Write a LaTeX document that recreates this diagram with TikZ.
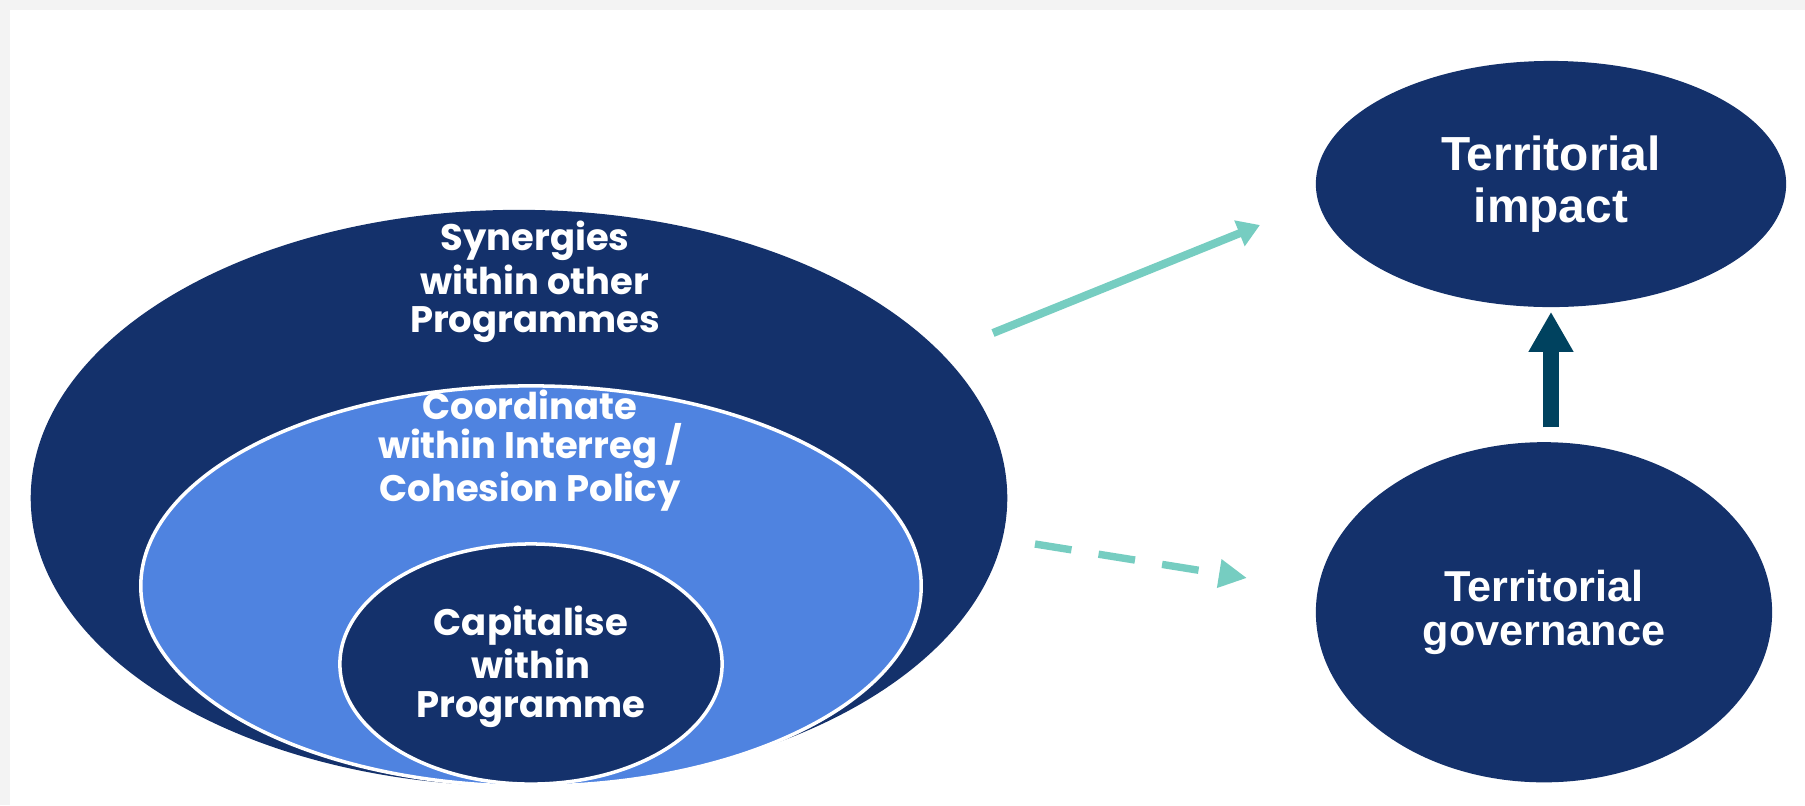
\documentclass[tikz,border=0pt]{standalone}
\usepackage{fontspec}
\setmainfont{Liberation Sans}
\newfontfamily\progfont{Poppins}
\usetikzlibrary{shapes.geometric, arrows.meta, positioning}

\definecolor{navy}{HTML}{14316B}
\definecolor{skyblue}{HTML}{4F83E0}
\definecolor{arrowteal}{HTML}{76CDC1}
\definecolor{deepteal}{HTML}{00425F}
\definecolor{framegray}{HTML}{F3F3F3}

\tikzset{
  ring/.style = {ellipse, inner sep=0pt},
  prog/.style = {text=white, align=center, font=\progfont\bfseries\fontsize{10.5}{11}\selectfont},
  result/.style = {ellipse, fill=navy, text=white, align=center, inner sep=0pt},
}

\begin{document}
\begin{tikzpicture} [x=0.01cm, y=-0.01cm]

\fill [framegray] (0,0) rectangle (1805,805);
\fill [white] (10,10) rectangle (1805,805);

\node (outer) [ring, fill=navy, minimum width=9.76cm, minimum height=5.76cm] at (519,498) {};
\node (middle) [ring, fill=skyblue, draw=white, line width=1pt, minimum width=7.8cm, minimum height=4cm] at (531,586) {};
\node (inner) [ring, fill=navy, draw=white, line width=1pt, minimum width=3.82cm, minimum height=2.4cm] at (531,664) {};

\node (synergies) [prog] at (535,282) {Synergies\\within other\\Programmes};
\node (coordinate) [prog] at (530,451) {Coordinate\\within Interreg /\\Cohesion Policy};
\node (capitalise) [prog] at (531,667) {Capitalise\\within\\Programme};

\node (impact) [result, minimum width=4.7cm, minimum height=2.46cm,
    font=\bfseries\fontsize{13.6}{15}\selectfont] at (1551,184) {Territorial\\impact};
\node (governance) [result, minimum width=4.56cm, minimum height=3.4cm,
    font=\bfseries\fontsize{12.3}{12.5}\selectfont,
    below = 4.28cm of impact.center, anchor=center, xshift=-0.07cm] {Territorial\\governance};

\coordinate (synOut) at (993,333);
\coordinate (impactIn) at (1260,225);
\coordinate (coordOut) at (1035,544);
\coordinate (govIn) at (1247,578);

\draw [-{Triangle[length=6.3pt, width=7.5pt]}, arrowteal, line width=2.3pt]
    (synOut) -- (impactIn);
\draw [-{Triangle[length=8pt, width=7.7pt]}, arrowteal, line width=2.1pt,
    dash pattern=on 10.5pt off 7.8pt]
    (coordOut) -- (govIn);
\draw [-{Triangle[length=11.4pt, width=12pt]}, deepteal, line width=4.3pt,
    shorten <= 0.14cm, shorten >= 0.04cm]
    (governance.north -| impact.south) -- (impact.south);
\end{tikzpicture}
\end{document}
